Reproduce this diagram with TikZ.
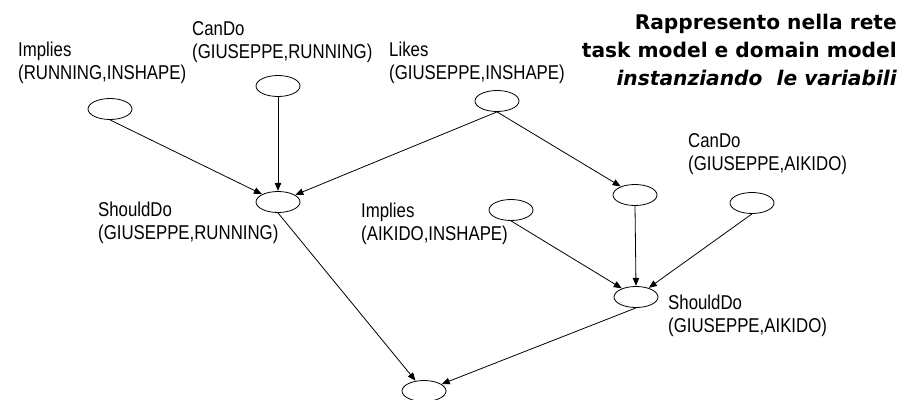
\documentclass[tikz,border=0pt]{standalone}
\usepackage{fontspec}
\usetikzlibrary{shapes.geometric,arrows.meta}
\newfontfamily\lblfont[FakeStretch=0.84]{Liberation Sans}
\newfontfamily\ttlfont{DejaVu Sans}
\tikzset{
  var/.style={draw, ellipse, line width=0.8pt, minimum width=44pt, minimum height=21pt, inner sep=0pt},
  lbl/.style={anchor=base west, align=left, inner sep=0pt, font=\lblfont\fontsize{20}{23}\selectfont},
  link/.style={line width=0.8pt, -{Triangle[length=8pt,width=6.5pt]}, shorten >=0.3pt},
}
\begin{document}
\begin{tikzpicture}[x=1pt, y=-1pt]
  \useasboundingbox (0,0) rectangle (904,399);

  % title (anchored on the baseline of its last line)
  \node[anchor=base east, align=right, inner sep=0pt,
        font=\ttlfont\bfseries\fontsize{20.2}{28}\selectfont] (title) at (897,85)
    {Rappresento nella rete\\task model e domain model\\\itshape instanziando\ \ le variabili};

  % variables
  \node[var] (impR)  at (110,109) {};
  \node[var] (canR)  at (278,86)  {};
  \node[var] (likes) at (497,101) {};
  \node[var] (shR)   at (278,202) {};
  \node[var] (mid)   at (635,195) {};
  \node[var] (impA)  at (511,210) {};
  \node[var] (canA)  at (752,203) {};
  \node[var] (shA)   at (636,297) {};
  \node[var] (goal)  at (424,391) {};

  % labels (anchored on the baseline of their second line)
  \node[lbl] (limpR)  at (18,79)   {Implies\\(RUNNING,INSHAPE)};
  \node[lbl] (lcanR)  at (192,58)  {CanDo\\(GIUSEPPE,RUNNING)};
  \node[lbl] (llikes) at (389,79)  {Likes\\(GIUSEPPE,INSHAPE)};
  \node[lbl] (lshR)   at (98,239)  {ShouldDo\\(GIUSEPPE,RUNNING)};
  \node[lbl] (limpA)  at (361,240) {Implies\\(AIKIDO,INSHAPE)};
  \node[lbl] (lcanA)  at (688,170) {CanDo\\(GIUSEPPE,AIKIDO)};
  \node[lbl] (lshA)   at (668,332) {ShouldDo\\(GIUSEPPE,AIKIDO)};

  % dependencies
  \draw[link] (impR.south)  -- (shR);
  \draw[link] (canR.south)  -- (shR.north);
  \draw[link] (likes.south) -- (shR);
  \draw[link] (likes.south) -- (mid);
  \draw[link] (mid.south)   -- (shA.north);
  \draw[link] (impA.south)  -- (shA);
  \draw[link] (canA.south)  -- (shA);
  \draw[link] (shR.south)   -- (goal);
  \draw[link] (shA.south)   -- (goal);
\end{tikzpicture}
\end{document}
